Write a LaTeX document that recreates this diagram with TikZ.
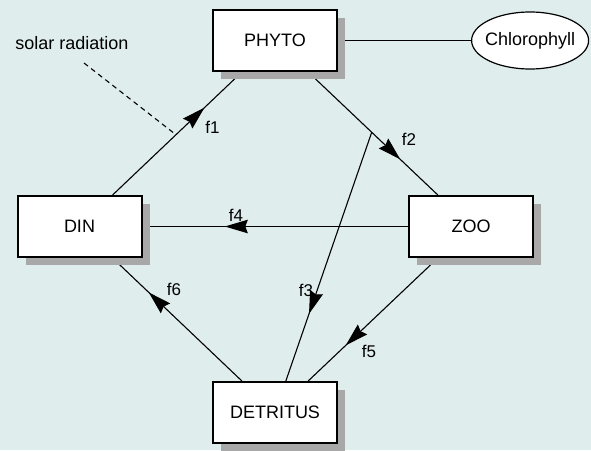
\documentclass[tikz,border=0pt]{standalone}
\usepackage{fontspec}
\setmainfont{Liberation Sans}
\usetikzlibrary{shapes, arrows.meta, positioning, calc, backgrounds, shadows, decorations.markings}
\pgfdeclarelayer{canvas}
\pgfsetlayers{canvas,background,main}
\definecolor{paper}{RGB}{224,237,237}
\definecolor{shade}{RGB}{168,168,168}

\begin{document}
\begin{tikzpicture} [
    x=1pt, y=-1pt,
    box/.style={rectangle, draw=black, line width=2pt, fill=white, minimum width=124pt, minimum height=61pt, font=\fontsize{18}{20}\selectfont, drop shadow={shadow xshift=8pt, shadow yshift=-8pt, fill=shade, opacity=1}},
    pigment/.style={ellipse, draw=black, line width=1.2pt, fill=white, minimum width=117pt, minimum height=57pt, inner sep=0pt, font=\fontsize{18}{20}\selectfont},
    flux/.style={font=\fontsize{17}{19}\selectfont, inner sep=0pt},
    flow/.style={line width=1.1pt, black},
    midarrow/.style={postaction={decorate}, decoration={markings, mark=at position #1 with {\arrow{Stealth[length=23pt, width=13.5pt, inset=2.5pt]}}}}
]

% Canvas
\useasboundingbox (0,0) rectangle (591,450);
\begin{pgfonlayer}{canvas}
    \fill[paper] (0,0) rectangle (591,450);
\end{pgfonlayer}

% Define all nodes first (foreground)
\node[box] (phyto) at (275,40.5) {PHYTO};
\node[box] (din) at (79.5,226.5) {DIN};
\node[box] (zoo) at (471,226.5) {ZOO};
\node[box] (detritus) at (275,412.5) {DETRITUS};
\node[pigment, right=133pt of phyto] (chl) {\makebox[60pt]{Chlorophyll}};

\node[font=\fontsize{18}{20}\selectfont, inner sep=0pt] (solar) at (72,43.5) {solar radiation};
\coordinate (ray) at (84,63);

\node[flux] (lf1) at (212.5,127.5) {f1};
\node[flux] (lf2) at (409,139.5) {f2};
\node[flux] (lf3) at (306,290) {f3};
\node[flux] (lf4) at (236,215.5) {f4};
\node[flux] (lf5) at (369,351) {f5};
\node[flux] (lf6) at (174,289.5) {f6};

% Draw all connectors in background
\begin{scope}[on background layer]
    \draw[flow, midarrow=0.71] (din) -- coordinate[pos=0.49] (sunhit) (phyto);
    \draw[flow, midarrow=0.71] (phyto) -- coordinate[pos=0.49] (split) (zoo);
    \draw[flow, midarrow=0.73] (split) -- (detritus);
    \draw[flow, midarrow=0.69] (zoo) -- (din);
    \draw[flow, midarrow=0.71] (zoo) -- (detritus);
    \draw[flow, midarrow=0.72] (detritus) -- (din);
    \draw[flow] (phyto) -- (chl);
    \draw[flow, dash pattern=on 5pt off 4pt] (ray) -- (sunhit);
\end{scope}

\end{tikzpicture}
\end{document}
